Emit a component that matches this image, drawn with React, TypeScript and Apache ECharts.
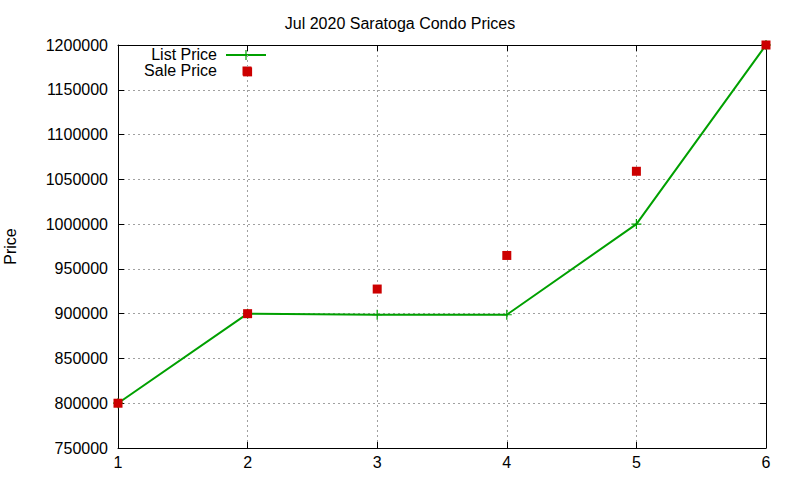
import React, { useEffect, useRef } from 'react';
import * as echarts from 'echarts';

const listX = [1, 2, 3, 4, 5, 6];
const listPrices = [800000, 900000, 898800, 898800, 1000000, 1200000];
const saleX = [1, 2, 2, 3, 4, 5, 6];
const salePrices = [800000, 900000, 1170000, 927500, 965000, 1059000, 1200000];

const GREEN = '#00a000';
const RED = '#cc0000';
const FONT = '"Liberation Sans", Arial, sans-serif';
const PLUS = 'path://M4.4,0H5.6V4.4H10V5.6H5.6V10H4.4V5.6H0V4.4H4.4Z';

const App: React.FC = () => {
  const chartRef = useRef<HTMLDivElement>(null);

  useEffect(() => {
    if (!chartRef.current) return;
    const chart = echarts.init(chartRef.current, null, { renderer: 'svg' });

    const splitLine = {
      show: true,
      lineStyle: { color: '#a0a0a0', type: [2, 3] as number[], width: 1 },
    };
    const frameAxis = {
      axisLine: { show: true, onZero: false, lineStyle: { color: '#000', width: 1 } },
      axisTick: { show: true, inside: true, length: 6, lineStyle: { color: '#000' } },
    };

    chart.setOption({
      animation: false,
      backgroundColor: '#fff',
      textStyle: { fontFamily: FONT },
      title: {
        text: 'Jul 2020 Saratoga Condo Prices',
        left: 'center',
        top: 10,
        textStyle: { fontFamily: FONT, fontWeight: 'normal', fontSize: 16, color: '#000' },
      },
      grid: {
        left: 118,
        right: 34,
        top: 45,
        bottom: 32,
        containLabel: false,
        outerBoundsMode: 'none',
      },
      xAxis: [
        {
          type: 'value',
          min: 1,
          max: 6,
          interval: 1,
          ...frameAxis,
          splitLine,
          axisLabel: { fontSize: 16, color: '#000', margin: 6, fontFamily: FONT },
        },
        {
          type: 'value',
          position: 'top',
          min: 1,
          max: 6,
          interval: 1,
          ...frameAxis,
          splitLine: { show: false },
          axisLabel: { show: false },
        },
      ],
      yAxis: [
        {
          type: 'value',
          min: 750000,
          max: 1200000,
          interval: 50000,
          name: 'Price',
          nameLocation: 'middle',
          nameRotate: 90,
          nameGap: 100,
          nameTextStyle: { fontSize: 16, color: '#000', fontFamily: FONT },
          ...frameAxis,
          splitLine,
          axisLabel: {
            fontSize: 16,
            color: '#000',
            margin: 10,
            fontFamily: FONT,
            formatter: (v: number) => String(v),
          },
        },
        {
          type: 'value',
          position: 'right',
          min: 750000,
          max: 1200000,
          interval: 50000,
          ...frameAxis,
          splitLine: { show: false },
          axisLabel: { show: false },
        },
      ],
      series: [
        {
          name: 'List Price',
          type: 'line',
          data: listX.map((x, i) => [x, listPrices[i]]),
          lineStyle: { color: GREEN, width: 2 },
          itemStyle: { color: GREEN, opacity: 1 },
          symbol: PLUS,
          symbolSize: 10,
          showSymbol: true,
          z: 2,
        },
        {
          name: 'Sale Price',
          type: 'scatter',
          data: saleX.map((x, i) => [x, salePrices[i]]),
          itemStyle: { color: RED, opacity: 1 },
          symbol: 'rect',
          symbolSize: 9,
          z: 3,
        },
      ],
      graphic: [
        {
          type: 'text',
          right: 800 - 217,
          top: 46,
          style: { text: 'List Price', fontSize: 16, fontFamily: FONT, fill: '#000' },
        },
        {
          type: 'line',
          shape: { x1: 226, y1: 55, x2: 266, y2: 55 },
          style: { stroke: GREEN, lineWidth: 2 },
        },
        {
          type: 'line',
          shape: { x1: 246, y1: 50, x2: 246, y2: 60 },
          style: { stroke: GREEN, lineWidth: 1.2 },
        },
        {
          type: 'text',
          right: 800 - 217,
          top: 62,
          style: { text: 'Sale Price', fontSize: 16, fontFamily: FONT, fill: '#000' },
        },
        {
          type: 'rect',
          shape: { x: 242.5, y: 66.5, width: 9, height: 9 },
          style: { fill: RED },
        },
      ],
    });

    return () => {
      chart.dispose();
    };
  }, []);

  return (
    <div
      ref={chartRef}
      style={{ position: 'fixed', left: 0, top: 0, width: 800, height: 480 }}
    />
  );
};

export default App;
